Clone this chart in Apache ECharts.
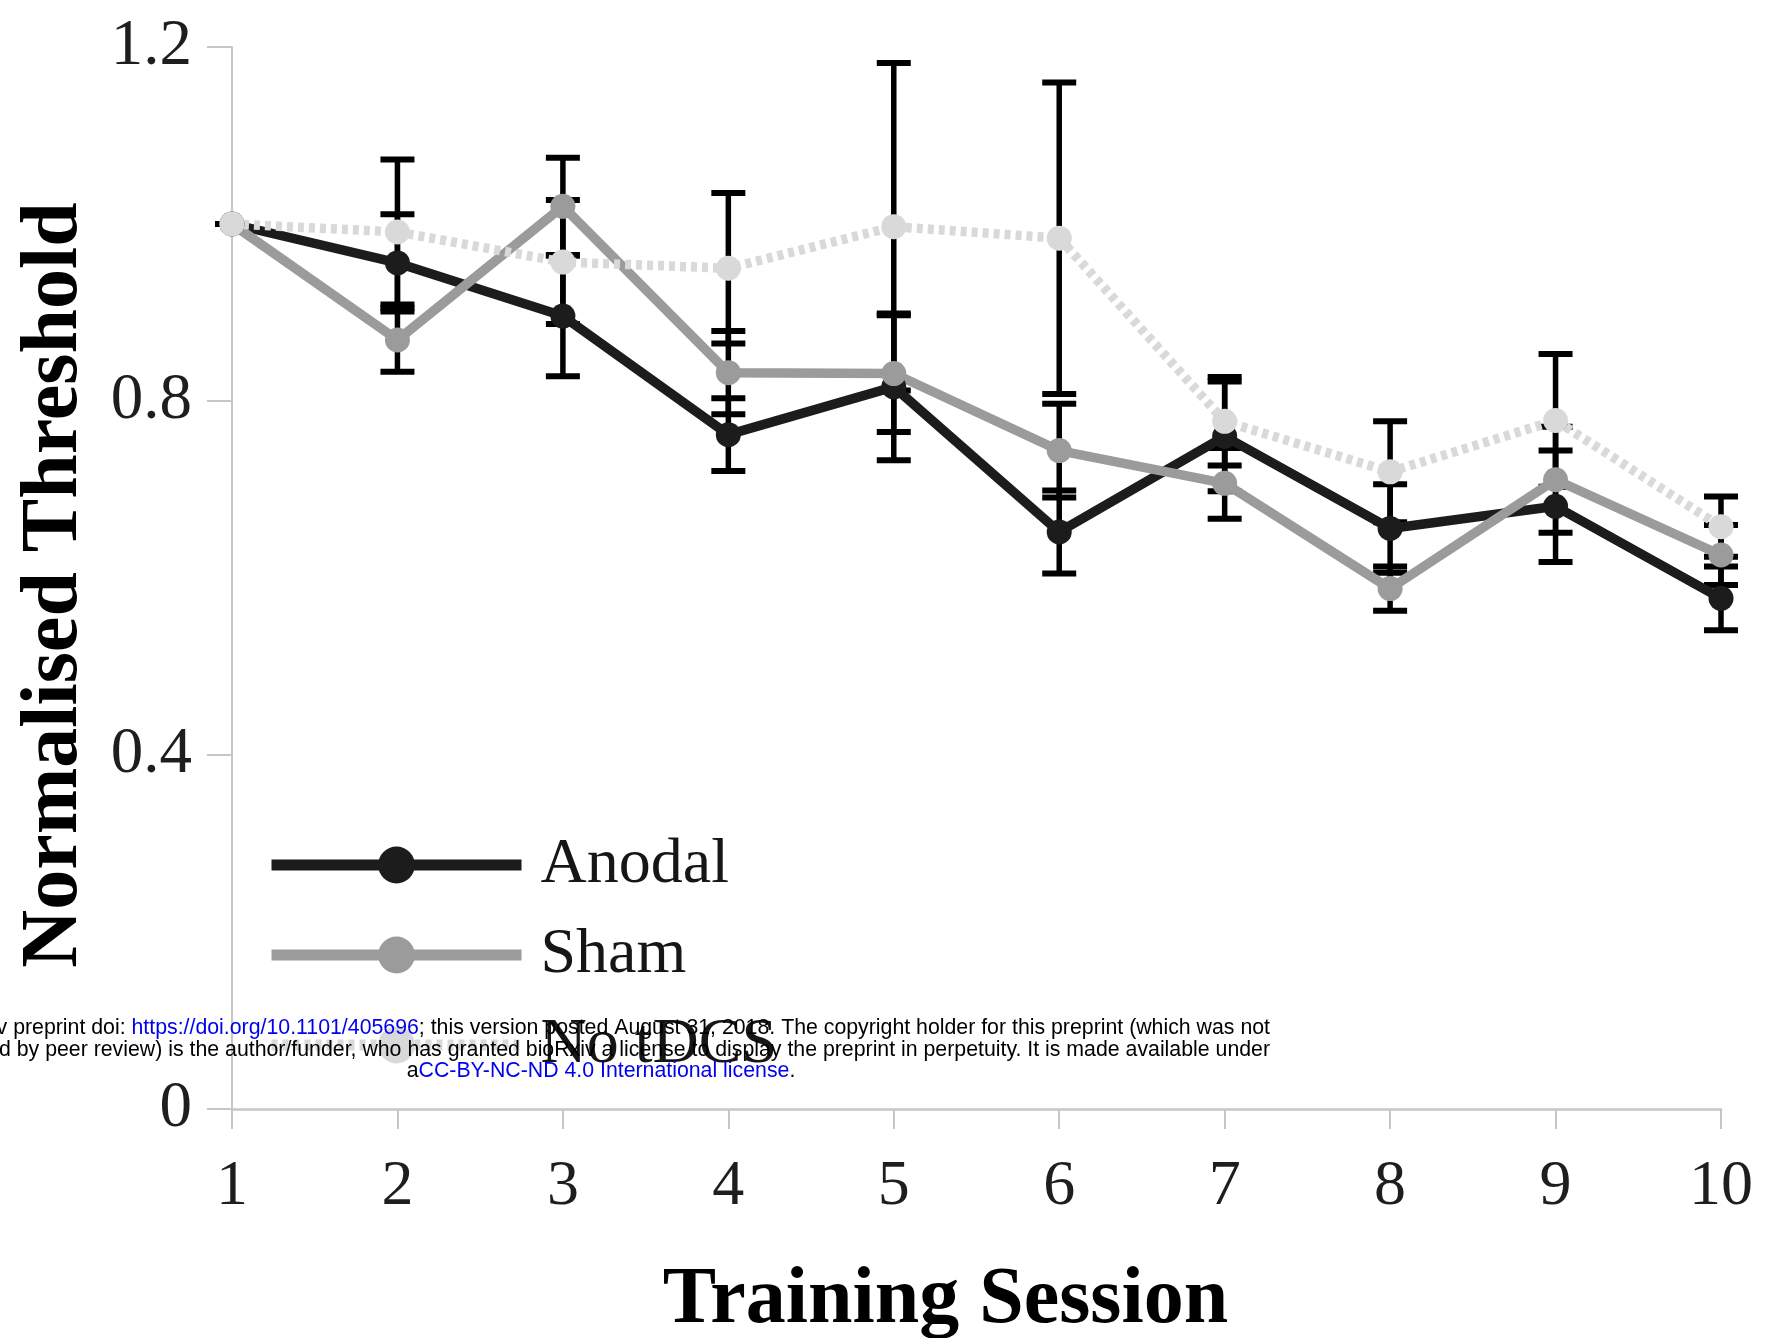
<!DOCTYPE html>
<html>
<head>
<meta charset="utf-8">
<script src="https://cdn.jsdelivr.net/npm/echarts@6/dist/echarts.min.js"></script>
<style>
html,body{margin:0;padding:0;background:#fff;}
#chart{width:1775px;height:1338px;}
</style>
</head>
<body>
<div id="chart"></div>
<script>
// ---- data ----
const sessions = ['1','2','3','4','5','6','7','8','9','10'];
const seriesNames = ['Anodal','Sham','No tDCS'];
const anodalMean = [1.0, 0.956, 0.896, 0.762, 0.816, 0.652, 0.760, 0.656, 0.681, 0.577];
const anodalErr  = [0.0, 0.055, 0.068, 0.041, 0.083, 0.047, 0.062, 0.050, 0.063, 0.036];
const shamMean   = [1.0, 0.869, 1.020, 0.832, 0.831, 0.744, 0.707, 0.588, 0.711, 0.626];
const shamErr    = [0.0, 0.036, 0.055, 0.047, 0.066, 0.053, 0.040, 0.025, 0.060, 0.034];
const noMean     = [1.0, 0.991, 0.957, 0.950, 0.997, 0.984, 0.777, 0.720, 0.778, 0.658];
const noErr      = [0.0, 0.082, 0.070, 0.085, 0.185, 0.176, 0.050, 0.057, 0.075, 0.034];
const yTicks = [0, 0.4, 0.8, 1.2];
const xTitle = 'Training Session';
const yTitle = 'Normalised Threshold';
const footerLines = [
  'bioRxiv preprint doi: {l|https://doi.org/10.1101/405696}; this version posted August 31, 2018. The copyright holder for this preprint (which was not',
  'certified by peer review) is the author/funder, who has granted bioRxiv a license to display the preprint in perpetuity. It is made available under',
  'a{l|CC-BY-NC-ND 4.0 International license}.'
];

// ---- chart ----
const chart = echarts.init(document.getElementById('chart'), null, {renderer: 'canvas'});

function errData(mean, err) {
  return sessions.map((s, i) => [i, mean[i], err[i]]);
}
function renderErr(params, api) {
  const x = api.value(0), m = api.value(1), e = api.value(2);
  const top = api.coord([x, m + e]);
  const bot = api.coord([x, m - e]);
  const hw = 17;
  const st = {stroke: '#000', lineWidth: 6, fill: null};
  return {
    type: 'group',
    children: [
      {type: 'line', shape: {x1: top[0], y1: top[1], x2: bot[0], y2: bot[1]}, style: Object.assign({}, st, {lineWidth: 5.5})},
      {type: 'line', shape: {x1: top[0] - hw, y1: top[1], x2: top[0] + hw, y2: top[1]}, style: st},
      {type: 'line', shape: {x1: bot[0] - hw, y1: bot[1], x2: bot[0] + hw, y2: bot[1]}, style: st}
    ]
  };
}
const serifFont = '"Liberation Serif", "Times New Roman", serif';
const sansFont = '21.3px "Liberation Sans", Arial, sans-serif';
const colors = {Anodal: '#1c1c1c', Sham: '#9b9b9b', 'No tDCS': '#d9d9d9'};

function lineSeries(name, mean, dashed) {
  return {
    name: name,
    type: 'line',
    data: mean,
    symbol: 'circle',
    symbolSize: 25,
    showSymbol: true,
    color: colors[name],
    itemStyle: {color: colors[name]},
    lineStyle: {color: colors[name], width: 9.5, type: dashed ? [6, 5] : 'solid', cap: 'butt'},
    emphasis: {disabled: true},
    animation: false,
    z: 2
  };
}
function errSeries(name, mean, err) {
  return {
    name: name + ' SE',
    type: 'custom',
    data: errData(mean, err),
    encode: {x: 0, y: 1},
    renderItem: renderErr,
    animation: false,
    silent: true,
    z: 2
  };
}

const option = {
  backgroundColor: '#ffffff',
  animation: false,
  grid: {left: 232, right: 54, top: 47, bottom: 229, containLabel: false, outerBoundsMode: 'none'},
  legend: {
    orient: 'vertical',
    left: 261,
    top: 828,
    itemWidth: 250,
    itemHeight: 46,
    itemGap: 26,
    data: seriesNames,
    selectedMode: false,
    lineStyle: {width: 11},
    textStyle: {fontFamily: serifFont, fontSize: 64, color: '#161616', padding: [0, 0, 0, 14], lineHeight: 46},
    z: 5
  },
  xAxis: {
    type: 'category',
    data: sessions,
    boundaryGap: false,
    name: xTitle,
    nameLocation: 'middle',
    nameGap: 152,
    nameTextStyle: {fontFamily: serifFont, fontWeight: 'bold', fontSize: 80, color: '#000', padding: [0, 62, 0, 0]},
    axisLine: {lineStyle: {color: '#c6c6c6', width: 2.5}},
    axisTick: {show: true, length: 20, lineStyle: {color: '#c6c6c6', width: 2}},
    axisLabel: {fontFamily: serifFont, fontSize: 64, color: '#1e1e1e', margin: 46},
    splitLine: {show: false}
  },
  yAxis: {
    type: 'value',
    min: yTicks[0],
    max: yTicks[yTicks.length - 1],
    interval: yTicks[1] - yTicks[0],
    name: yTitle,
    nameLocation: 'middle',
    nameRotate: 90,
    nameGap: 137,
    nameTextStyle: {fontFamily: serifFont, fontWeight: 'bold', fontSize: 80, color: '#000', padding: [0, 14, 0, 0]},
    axisLine: {show: true, lineStyle: {color: '#c6c6c6', width: 2}},
    axisTick: {show: true, length: 25, lineStyle: {color: '#c6c6c6', width: 2}},
    axisLabel: {fontFamily: serifFont, fontSize: 65, color: '#1e1e1e', margin: 40},
    splitLine: {show: false}
  },
  series: [
    lineSeries('Anodal', anodalMean, false),
    errSeries('Anodal', anodalMean, anodalErr),
    lineSeries('Sham', shamMean, false),
    errSeries('Sham', shamMean, shamErr),
    lineSeries('No tDCS', noMean, true),
    errSeries('No tDCS', noMean, noErr)
  ],
  graphic: [
    {type: 'text', z: 100, x: 1270, y: 1028, style: {text: footerLines[0], align: 'right', textAlign: 'right', verticalAlign: 'middle', textVerticalAlign: 'middle', font: sansFont, fill: '#000', rich: {l: {fill: '#0000ee', font: sansFont}}}},
    {type: 'text', z: 100, x: 1270, y: 1050, style: {text: footerLines[1], align: 'right', textAlign: 'right', verticalAlign: 'middle', textVerticalAlign: 'middle', font: sansFont, fill: '#000'}},
    {type: 'text', z: 100, x: 601, y: 1071, style: {text: footerLines[2], align: 'center', textAlign: 'center', verticalAlign: 'middle', textVerticalAlign: 'middle', font: sansFont, fill: '#000', rich: {l: {fill: '#0000ee', font: sansFont}}}}
  ]
};
chart.setOption(option);
</script>
</body>
</html>
